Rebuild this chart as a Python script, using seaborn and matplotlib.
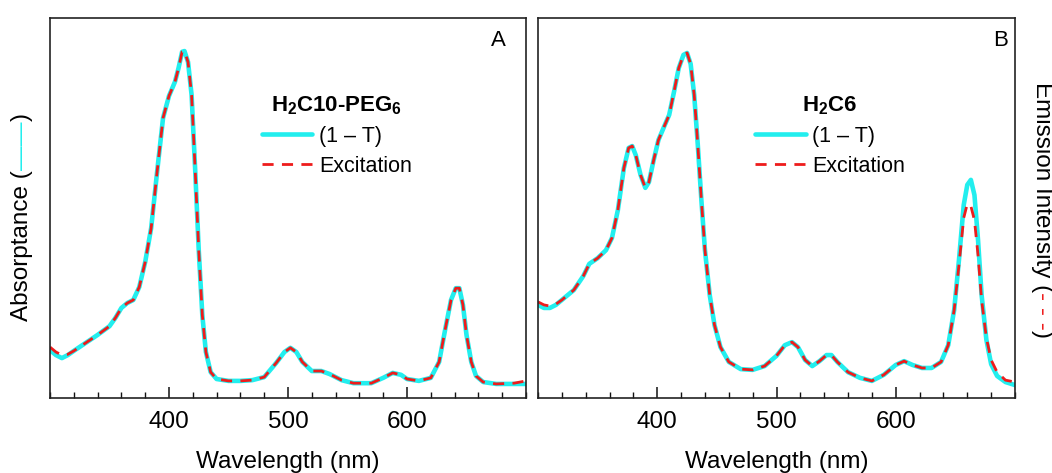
import numpy as np
import pandas as pd
import matplotlib
matplotlib.use("Agg")
import matplotlib.pyplot as plt
from matplotlib.ticker import MultipleLocator, FixedLocator
import seaborn as sns

# ---------------- data ----------------
wl_A = [300, 305, 310, 315, 320, 330, 340, 350, 355, 360, 365, 370, 375, 380, 385, 390, 395,
        400, 405, 408, 411, 413, 416, 419, 422, 425, 428, 431, 435, 440, 450, 460, 470, 480,
        490, 497, 502, 507, 512, 520, 528, 535, 545, 555, 570, 580, 588, 595, 600, 610, 620,
        627, 632, 637, 641, 644, 647, 650, 654, 658, 664, 675, 690, 700]
abs_A = [0.126, 0.113, 0.105, 0.113, 0.124, 0.145, 0.166, 0.189, 0.211, 0.237, 0.250, 0.258,
         0.292, 0.358, 0.447, 0.595, 0.737, 0.795, 0.832, 0.868, 0.911, 0.913, 0.884, 0.797,
         0.600, 0.389, 0.218, 0.121, 0.068, 0.050, 0.045, 0.045, 0.047, 0.055, 0.092, 0.121,
         0.132, 0.121, 0.095, 0.071, 0.071, 0.063, 0.047, 0.039, 0.039, 0.053, 0.066, 0.061,
         0.050, 0.045, 0.053, 0.095, 0.179, 0.258, 0.289, 0.289, 0.245, 0.166, 0.095, 0.058,
         0.042, 0.037, 0.037, 0.037]
exc_A = [0.134, 0.121, 0.113, 0.115, 0.124, 0.145, 0.166, 0.189, 0.211, 0.237, 0.250, 0.258,
         0.292, 0.358, 0.447, 0.595, 0.737, 0.795, 0.832, 0.868, 0.911, 0.913, 0.884, 0.797,
         0.600, 0.389, 0.218, 0.121, 0.068, 0.050, 0.045, 0.045, 0.047, 0.055, 0.092, 0.121,
         0.132, 0.121, 0.095, 0.071, 0.071, 0.063, 0.047, 0.039, 0.039, 0.053, 0.066, 0.061,
         0.050, 0.045, 0.053, 0.095, 0.179, 0.258, 0.289, 0.289, 0.245, 0.166, 0.095, 0.058,
         0.042, 0.037, 0.039, 0.045]

wl_B = [300, 305, 310, 315, 320, 330, 338, 343, 350, 357, 362, 367, 372, 376, 379, 382, 386,
        390, 393, 397, 401, 406, 410, 414, 418, 422, 425, 428, 431, 434, 437, 440, 444, 448,
        453, 460, 470, 480, 490, 500, 507, 513, 518, 524, 530, 536, 542, 546, 551, 560, 570,
        580, 590, 600, 607, 614, 622, 630, 638, 644, 649, 653, 657, 660, 663, 666, 669, 672,
        676, 680, 685, 692, 700]
abs_B = [0.245, 0.237, 0.237, 0.245, 0.258, 0.284, 0.321, 0.353, 0.368, 0.389, 0.421, 0.495,
         0.605, 0.658, 0.663, 0.639, 0.587, 0.553, 0.568, 0.626, 0.679, 0.716, 0.745, 0.805,
         0.868, 0.903, 0.908, 0.879, 0.797, 0.666, 0.521, 0.389, 0.271, 0.192, 0.134, 0.095,
         0.076, 0.074, 0.084, 0.111, 0.139, 0.147, 0.134, 0.100, 0.084, 0.097, 0.113, 0.113,
         0.095, 0.068, 0.053, 0.045, 0.061, 0.087, 0.097, 0.087, 0.079, 0.079, 0.095, 0.139,
         0.232, 0.363, 0.508, 0.561, 0.574, 0.534, 0.416, 0.271, 0.153, 0.089, 0.058, 0.042,
         0.034]
exc_B = [0.253, 0.245, 0.242, 0.247, 0.258, 0.284, 0.321, 0.353, 0.368, 0.389, 0.421, 0.495,
         0.605, 0.658, 0.663, 0.639, 0.587, 0.553, 0.568, 0.626, 0.679, 0.716, 0.745, 0.805,
         0.868, 0.903, 0.908, 0.879, 0.797, 0.666, 0.521, 0.389, 0.271, 0.192, 0.134, 0.095,
         0.076, 0.074, 0.084, 0.111, 0.139, 0.147, 0.134, 0.100, 0.084, 0.097, 0.113, 0.113,
         0.095, 0.068, 0.053, 0.045, 0.061, 0.087, 0.097, 0.087, 0.079, 0.079, 0.095, 0.139,
         0.232, 0.350, 0.474, 0.511, 0.505, 0.468, 0.376, 0.258, 0.158, 0.100, 0.068, 0.047,
         0.042]

panel_labels = ["A", "B"]
legend_titles = [r"H$_\mathbf{2}$C10-PEG$_\mathbf{6}$", r"H$_\mathbf{2}$C6"]
series_labels = ["(1 \u2013 T)", "Excitation"]
x_ticks = [400, 500, 600]
x_label = "Wavelength (nm)"

# ---------------- style ----------------
sns.set_style("white", {"axes.edgecolor": "#111111", "text.color": "black",
                        "xtick.color": "black", "axes.labelcolor": "black"})
plt.rcParams["font.family"] = ["Liberation Sans", "DejaVu Sans"]
plt.rcParams["mathtext.fontset"] = "custom"
plt.rcParams["mathtext.rm"] = "Liberation Sans"
plt.rcParams["mathtext.bf"] = "Liberation Sans:bold"

CYAN = "#22EEEE"
RED = "#EE1C1C"
FS = 17.5

fig = plt.figure(figsize=(10.52, 4.73), dpi=100)
W, H = 1052, 473
axA = fig.add_axes([50 / W, 1 - 398 / H, (526 - 50) / W, (398 - 18) / H])
axB = fig.add_axes([538 / W, 1 - 398 / H, (1015 - 538) / W, (398 - 18) / H])

panels = [(axA, wl_A, abs_A, exc_A, 0.445, 0.943),
          (axB, wl_B, abs_B, exc_B, 0.455, 0.970)]

for i, (ax, wl, ab, ex, lx, px) in enumerate(panels):
    sns.lineplot(x=wl, y=ab, ax=ax, color=CYAN, linewidth=3.3, sort=False,
                 label=series_labels[0])
    sns.lineplot(x=wl, y=ex, ax=ax, color=RED, linewidth=2.0, sort=False,
                 label=series_labels[1])
    ax.lines[-1].set_dashes((4, 3))
    ax.set_xlim(300, 700)
    ax.set_ylim(0, 1)
    ax.set_yticks([])
    ax.xaxis.set_major_locator(FixedLocator(x_ticks))
    ax.xaxis.set_minor_locator(MultipleLocator(20))
    ax.tick_params(axis="x", which="major", direction="in", length=8, width=1.1,
                   labelsize=FS, pad=9, bottom=True, top=False, color="#111111",
                   labelcolor="black")
    ax.tick_params(axis="x", which="minor", direction="in", length=4.5, width=1.0,
                   bottom=True, top=False, color="#111111")
    for s in ax.spines.values():
        s.set_linewidth(1.2)
        s.set_color("#222222")
    ax.set_xlabel(x_label, fontsize=FS, labelpad=13, color="black")
    ax.set_ylabel("")
    handles, labels = ax.get_legend_handles_labels()
    leg = ax.legend(handles, labels, title=legend_titles[i], frameon=False,
                    loc="upper left", bbox_to_anchor=(lx, 0.80), borderpad=0,
                    borderaxespad=0, fontsize=15.5, handlelength=2.35,
                    handletextpad=0.3, labelspacing=0.42,
                    title_fontproperties={"weight": "bold", "size": 16})
    for t in leg.get_texts():
        t.set_color("black")
    leg.get_title().set_color("black")
    ax.text(px, 0.942, panel_labels[i], transform=ax.transAxes, fontsize=16,
            ha="center", va="center", color="black")

# ---------------- multi-colour axis labels ----------------
fig.canvas.draw()
renderer = fig.canvas.get_renderer()


def stacked_label(pieces, x_px, y_center_px, rotation):
    texts = []
    for txt, col in pieces:
        t = fig.text(x_px / W, 0.5, txt, color=col, fontsize=FS, rotation=rotation,
                     rotation_mode="anchor", ha="left", va="center")
        texts.append((t, t.get_window_extent(renderer).height))
    total = sum(h for _, h in texts)
    if rotation == 90:
        y = (H - y_center_px) - total / 2
    else:
        y = (H - y_center_px) + total / 2
    for t, h in texts:
        t.set_y(y / H)
        y = y + h if rotation == 90 else y - h


stacked_label([("Absorptance (", "black"), ("\u2014\u2014", CYAN), (")", "black")],
              22, 217, 90)
stacked_label([("Emission Intensity (", "black"), ("- - -", RED), (")", "black")],
              1042, 210, 270)

fig.savefig("out.png", dpi=100)
